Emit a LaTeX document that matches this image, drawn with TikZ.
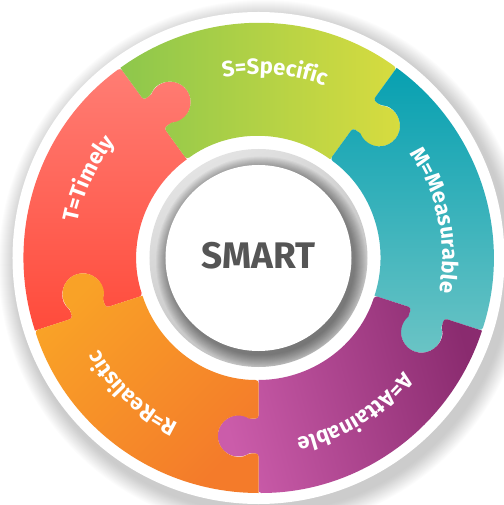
\documentclass[tikz,border=0pt]{standalone}
\usepackage{fontspec}
\setmainfont{Fira Sans}
\newfontfamily\labfont{Fira Sans}[LetterSpace=7]
\usetikzlibrary{decorations.text}
\definecolor{tTop}{HTML}{FF7D74}
\definecolor{tBot}{HTML}{FF4B3B}
\definecolor{sL}{HTML}{8DC74C}
\definecolor{sR}{HTML}{D8DC3F}
\definecolor{mTop}{HTML}{07A0B1}
\definecolor{mBot}{HTML}{6BC4C5}
\definecolor{aDark}{HTML}{8A2B6F}
\definecolor{aLight}{HTML}{CB5CAA}
\definecolor{rLight}{HTML}{F9A227}
\definecolor{rDark}{HTML}{F47B2A}
\definecolor{smartgray}{HTML}{555555}
\definecolor{ringgray}{HTML}{DCDCDC}
% one puzzle piece from angle #1 to #1+72, knob on the clockwise edge
\newcommand\piece[1]{%
  ([rotate=#1]122,0) [rounded corners=3pt] -- ([rotate=#1]160.65,0) -- ([rotate=#1]160.65,-9.28) [sharp corners]
  arc[start angle=#1+147.8, end angle=#1+392.2, radius=20.5]
  [rounded corners=3pt] -- ([rotate=#1]195.35,0) -- ([rotate=#1]235,0) [sharp corners]
  arc[start angle=#1, end angle=#1+72, radius=235]
  [rounded corners=3pt] -- ([rotate=#1+72]195.35,0) -- ([rotate=#1+72]195.35,-9.28) [sharp corners]
  arc[start angle=#1+72+32.2, end angle=#1+72-212.2, radius=20.5]
  [rounded corners=3pt] -- ([rotate=#1+72]160.65,0) -- ([rotate=#1+72]122,0) [sharp corners]
  arc[start angle=#1+72, end angle=#1, radius=122] -- cycle}
\tikzset{
  lbl/.style={decorate, decoration={text along path, text align=center, text color=white,
     text={|\labfont\bfseries\fontsize{22}{22}\selectfont|#1}}}
}
\begin{document}
\begin{tikzpicture}[x=1pt,y=1pt]
\useasboundingbox (-258.5,-247) rectangle (244.5,258);
% outer drop shadow and white rim
\foreach \i in {0,...,17} \fill[black,opacity=0.012] (5,-7) circle ({247+18-\i});
\fill[white] (0,0) circle (246);
% puzzle pieces
\path[top color=tTop, bottom color=tBot] \piece{126};
\path[left color=sL, right color=sR] \piece{54};
\path[top color=mTop, bottom color=mBot] \piece{-18};
\path[top color=aDark, bottom color=aLight, shading angle=-75] \piece{270};
\path[top color=rLight, bottom color=rDark, shading angle=45] \piece{198};
% centre
\shade[top color=ringgray!80!white, bottom color=ringgray!85!black, shading angle=30] (0,0) circle (109);
\foreach \i in {0,...,11} \fill[black,opacity=0.035] (2.5,-3.5) circle ({93+12-\i});
\fill[white] (0,0) circle (93);
\node[font=\bfseries\fontsize{37}{37}\selectfont, text=smartgray] (smart) at (0,2) {SMART};
% labels
\path[lbl={S=Specific}] (135:184) arc[start angle=135, end angle=35, radius=184];
\path[lbl={M=Measurable}] (62:184) arc[start angle=62, end angle=-38, radius=184];
\path[lbl={A=Attainable}] (-8:184) arc[start angle=-8, end angle=-108, radius=184];
\path[lbl={R=Realistic}] (277:184) arc[start angle=277, end angle=177, radius=184];
\path[lbl={T=Timely}] (205:184) arc[start angle=205, end angle=105, radius=184];
\end{tikzpicture}
\end{document}
